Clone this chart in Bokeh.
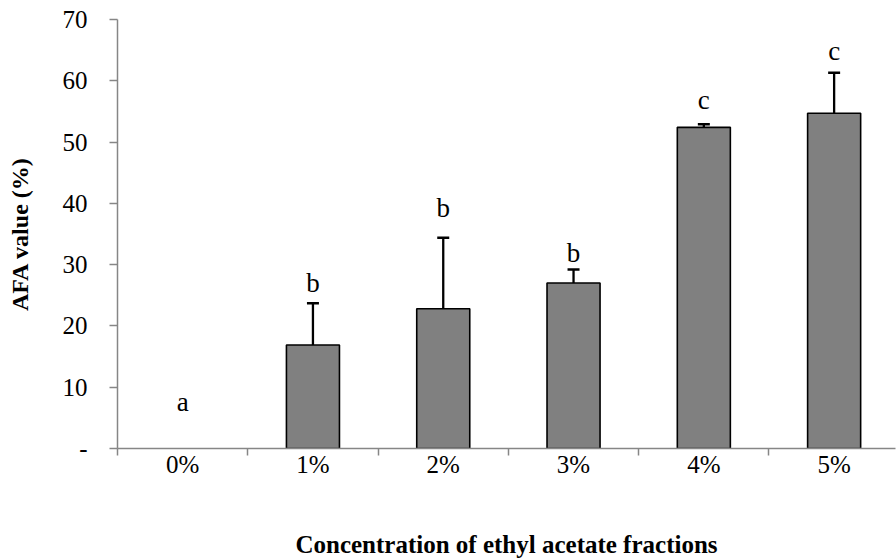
from bokeh.plotting import figure
from bokeh.models import ColumnDataSource, FixedTicker, Range1d, Whisker, TeeHead
from bokeh.core.properties import value
from bokeh.embed import file_html
from bokeh.resources import INLINE

# ---- data ----
categories = ["0%", "1%", "2%", "3%", "4%", "5%"]
afa_values = [0.0, 16.9, 22.8, 27.0, 52.4, 54.7]
afa_sd = [0.0, 6.8, 11.6, 2.2, 0.5, 6.6]
group_letters = ["a", "b", "b", "b", "c", "c"]
letter_heights = [7.55, 27.0, 39.2, 31.9, 56.9, 64.9]
y_ticks = [0, 10, 20, 30, 40, 50, 60, 70]
y_tick_labels = ["-", "10", "20", "30", "40", "50", "60", "70"]

FONT = "Liberation Serif"
AXIS_GREY = "#868686"

xc = [i + 0.5 for i in range(len(categories))]

bars = ColumnDataSource(dict(
    x=[x for x, v in zip(xc, afa_values) if v > 0],
    top=[v for v in afa_values if v > 0],
))
errs = ColumnDataSource(dict(
    x=[x for x, s in zip(xc, afa_sd) if s > 0],
    lower=[v for v, s in zip(afa_values, afa_sd) if s > 0],
    upper=[v + s for v, s in zip(afa_values, afa_sd) if s > 0],
))
letters = ColumnDataSource(dict(x=xc, y=letter_heights, t=group_letters))

p = figure(width=896, height=560, output_backend="svg", toolbar_location=None,
           x_range=Range1d(0, 5.971), y_range=Range1d(0, 70),
           min_border_left=117, min_border_right=1, min_border_top=19, min_border_bottom=110)
p.outline_line_color = None
p.xgrid.visible = False
p.ygrid.visible = False
p.background_fill_color = "white"
p.border_fill_color = "white"

p.vbar(x="x", top="top", bottom=0, width=0.407, source=bars,
       fill_color="#808080", line_color="black", line_width=1.6)

w = Whisker(source=errs, base="x", lower="lower", upper="upper",
            lower_head=None, upper_head=TeeHead(size=12, line_width=2.5, line_color="black"),
            line_width=2.3, line_color="black")
p.add_layout(w)

p.text(x="x", y="y", text="t", source=letters, text_align="center", text_baseline="alphabetic",
       text_font=value(FONT), text_font_size="27px", text_color="black")

# x axis
xa = p.xaxis[0]
xa.ticker = FixedTicker(ticks=xc, minor_ticks=[0, 1, 2, 3, 4, 5])
xa.major_label_overrides = {x: c for x, c in zip(xc, categories)}
xa.major_tick_out = 0
xa.major_tick_in = 0
xa.minor_tick_out = 7
xa.minor_tick_in = 0
xa.minor_tick_line_color = AXIS_GREY
xa.minor_tick_line_width = 1.5
xa.axis_line_color = AXIS_GREY
xa.axis_line_width = 1.5
xa.major_label_text_font = FONT
xa.major_label_text_font_size = "25px"
xa.major_label_text_color = "black"
xa.major_label_standoff = -5
xa.axis_label = "Concentration of ethyl acetate fractions"
xa.axis_label_text_font = FONT
xa.axis_label_text_font_size = "25px"
xa.axis_label_text_font_style = "bold"
xa.axis_label_text_color = "black"
xa.axis_label_standoff = 50

# y axis
ya = p.yaxis[0]
ya.ticker = FixedTicker(ticks=y_ticks, minor_ticks=[])
ya.major_label_overrides = {t: l for t, l in zip(y_ticks, y_tick_labels)}
ya.major_tick_out = 8
ya.major_tick_in = 0
ya.major_tick_line_color = AXIS_GREY
ya.major_tick_line_width = 1.5
ya.axis_line_color = AXIS_GREY
ya.axis_line_width = 1.5
ya.major_label_text_font = FONT
ya.major_label_text_font_size = "25px"
ya.major_label_text_color = "black"
ya.major_label_standoff = 22
ya.axis_label = "AFA value (%)"
ya.axis_label_text_font = FONT
ya.axis_label_text_font_size = "24px"
ya.axis_label_text_font_style = "bold"
ya.axis_label_text_color = "black"
ya.axis_label_standoff = 27

open("out.html", "w").write(file_html(p, INLINE))
